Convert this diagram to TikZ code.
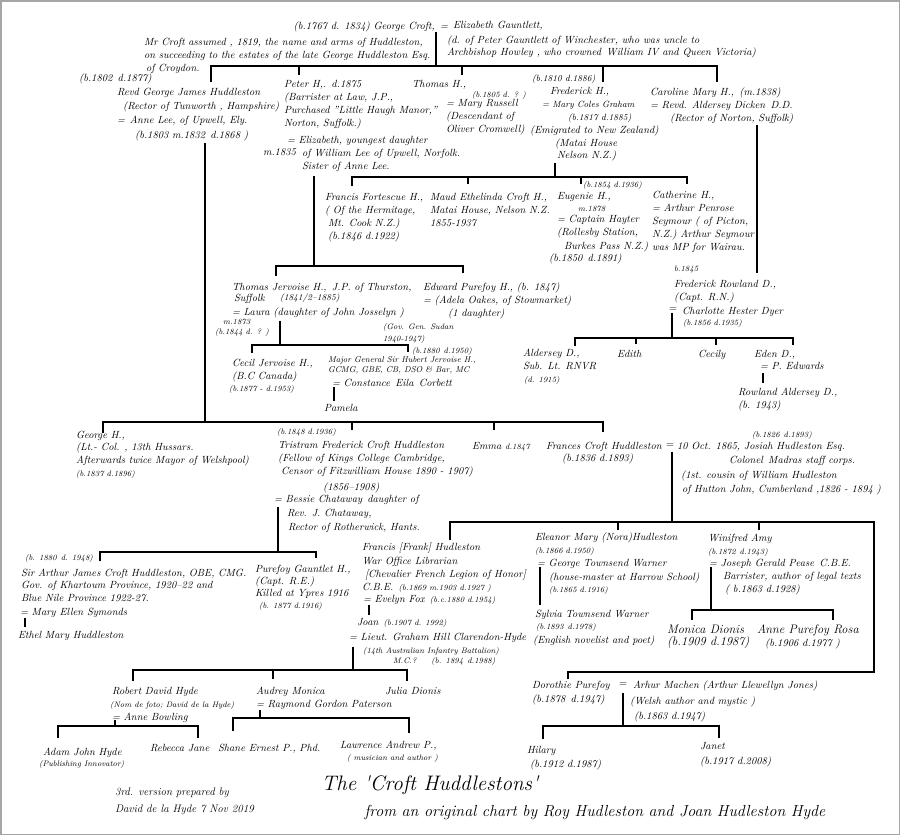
\documentclass[tikz,border=0pt]{standalone}
\usepackage{tikz}
\usetikzlibrary{positioning}

\begin{document}
\begin{tikzpicture}[x=1pt,y=-1pt,
  every node/.style={inner sep=0pt,outer sep=0pt,anchor=north west,align=left},
  person/.style={font=\fontsize{10.4}{13}\selectfont\itshape},
  bs/.style={font=\fontsize{10.4}{#1}\selectfont\itshape},
  dates/.style={font=\fontsize{8}{10}\selectfont\itshape},
  mid/.style={font=\fontsize{9}{13}\selectfont\itshape},
  big/.style={font=\fontsize{12.3}{12}\selectfont\itshape},
  eq/.style={anchor=west,font=\fontsize{10.4}{12}\selectfont},
  kin/.style={line width=1.4pt,black},
]
\useasboundingbox (0,0) rectangle (900,835);
\draw[gray!70,line width=1.5pt] (0.75,0.75) rectangle (899.25,834.25);

% George Croft = Elizabeth Gauntlett
\node[person,anchor=north east] (gc) at (448,22) {(b.1767 d. 1834) George Croft,\enspace=};
\node[person] (eg) at (453,21) {Elizabeth Gauntlett,};
\node[bs=12] (egnote) at (447,36) {(d. of Peter Gauntlett of Winchester, who was uncle to\\Archbishop Howley , who crowned\enspace William IV and Queen Victoria)};
\node[person] (gcnote) at (144,38) {Mr Croft assumed , 1819, the name and arms of Huddleston,\\on succeeding to the estates of the late George Huddleston Esq.\\\hspace*{2pt}of Croydon.};

% second generation
\node[person] (rgjd) at (79,74) {(b.1802\enspace d.1877)};
\node[bs=14.3] (rgj) at (117,88) {Revd George James Huddleston\\\hspace*{6pt}(Rector of Tunworth , Hampshire)\\=\hspace{5pt}Anne Lee, of Upwell, Ely.\\\hspace*{18pt}(b.1803 m.1832\enspace d.1868 )};
\node[person] (peter) at (284,80) {Peter H,.\enspace d.1875\\(Barrister at Law, J.P.,\\Purchased "Little Haugh Manor,"\\Norton, Suffolk.)};
\node[person] (peterw) at (287,136) {= Elizabeth, youngest daughter\\\hspace*{15pt}of William Lee of Upwell, Norfolk.\\\hspace*{15pt}Sister of Anne Lee.};
\node[person] (m1835) at (263,149) {m.1835};
\node[person] (thomas) at (412,80) {Thomas H.,};
\node[dates] (thomasd) at (472,91) {(b.1805 d. ? )};
\node[person] (thomasw) at (446,99) {= Mary Russell\\(Descendant of\\Oliver Cromwell)};
\node[mid] (fredd) at (532,75) {(b.1810 d.1886)};
\node[person] (fred) at (550,87) {Frederick H.,};
\node[mid] (fredw) at (542,101) {= Mary Coles Graham\\\hspace*{26pt}(b.1817 d.1885)};
\node[bs=12.5] (frednz) at (530,126) {(Emigrated to New Zealand)\\\hspace*{25pt}(Matai House\\\hspace*{27pt}Nelson N.Z.)};
\node[person] (caro) at (650,88) {Caroline Mary H.,\enspace(m.1838)\\= Revd. Aldersey Dicken\enspace D.D.\\\hspace*{20pt}(Rector of Norton, Suffolk)};

% Frederick's children
\node[person] (ffort) at (325,193) {Francis Fortescue H.,\\( Of the Hermitage,\\\hspace*{3pt}Mt. Cook N.Z.)\\\hspace*{3pt}(b.1846 d.1922)};
\node[person] (maud) at (430,193) {Maud Ethelinda Croft H.,\\Matai House, Nelson N.Z.\\1855-1937};
\node[dates] (eugd) at (583,181) {(b.1854 d.1936)};
\node[person] (eug) at (557,192) {Eugenie H.,};
\node[dates] (eugm) at (578,206) {m.1878};
\node[bs=13.5] (eugw) at (557,215) {= Captain Hayter\\(Rollesby Station,\\\hspace*{7pt}Burkes Pass N.Z.)};
\node[person] (eugdd) at (549,254) {(b.1850\enspace d.1891)};
\node[person] (cath) at (652,191) {Catherine H.,\\= Arthur Penrose\\Seymour ( of Picton,\\N.Z.) Arthur Seymour\\was MP for Wairau.};

% Caroline's son
\node[dates] (frb) at (674,266) {b.1845};
\node[person] (frd) at (674,280) {Frederick Rowland D.,\\(Capt. R.N.)};
\node[eq] (freq) at (669,310) {=};
\node[person] (chd) at (682,307) {Charlotte Hester Dyer};
\node[dates] (chdd) at (683,319) {(b.1856 d.1935)};
\node[person] (ald) at (523,349) {Aldersey D.,\\Sub. Lt. RNVR};
\node[dates] (aldd) at (524,376) {(d. 1915)};
\node[person] (edith) at (617,350) {Edith};
\node[person] (cecily) at (698,350) {Cecily};
\node[bs=12] (eden) at (754,350) {Eden D.,\\\hspace*{6pt}= P. Edwards};
\node[person] (rowl) at (738,388) {Rowland Aldersey D.,\\(b. 1943)};

% Peter's children
\node[bs=11.5] (tj) at (232,283) {Thomas Jervoise H.,\enspace J.P. of Thurston,\\\hspace*{2pt}Suffolk};
\node[mid] (tjd) at (280,294) {(1841/2--1885)};
\node[person] (tjw) at (232,308) {= Laura (daughter of John Josselyn )};
\node[dates] (tjm) at (215,319) {\hspace*{8pt}m.1873\\(b.1844 d. ? )};
\node[person] (ep) at (423,283) {Edward Purefoy H., (b. 1847)\\= (Adela Oakes, of Stowmarket)\\\hspace*{25pt}(1 daughter)};
\node[dates,font=\fontsize{8}{12}\selectfont\itshape] (gov) at (383,323) {(Gov. Gen. Sudan\\1940-1947)};
\node[dates] (hubd) at (412,347) {(b.1880\enspace d.1950)};
\node[person] (cecil) at (232,359) {Cecil Jervoise H.,\\(B.C Canada)};
\node[dates] (cecild) at (229,385) {(b.1877 - d.1953)};
\node[dates,font=\fontsize{8.5}{10}\selectfont\itshape] (hub) at (328,357) {Major General Sir Hubert Jervoise H.,\\GCMG, GBE, CB, DSO \& Bar, MC};
\node[person] (con) at (332,379) {= Constance\enspace Eila\enspace Corbett};
\node[person] (pam) at (324,404) {Pamela};

% Revd George James's children
\node[bs=12.5] (geo) at (76,431) {George H.,\\(Lt.- Col. , 13th Hussars.\\Afterwards twice Mayor of Welshpool)};
\node[dates] (geod) at (76,470) {(b.1837 d.1896)};
\node[dates] (trisd) at (277,428) {(b.1848 d.1936)};
\node[person] (tris) at (278,441) {Tristram Frederick Croft Huddleston\\(Fellow of Kings College Cambridge,\\\hspace*{3pt}Censor of Fitzwilliam House 1890 - 1907)};
\node[person] (trisl) at (323,483) {(1856--1908)};
\node[bs=14] (bes) at (274,495) {= Bessie Chataway\enspace daughter of\\\hspace*{13pt}Rev. J. Chataway,\\\hspace*{14pt}Rector of Rotherwick, Hants.};
\node[person] (emma) at (472,442) {Emma {\fontsize{8}{10}\selectfont d.1847}};
\node[bs=12] (fran) at (546,442) {Frances Croft Huddleston\\\hspace*{16pt}(b.1836 d.1893)};
\node[eq] (franeq) at (666,446) {=};
\node[dates] (josd) at (752,431) {(b.1826\enspace d.1893)};
\node[bs=14.5] (jos) at (677,442) {10 Oct. 1865, Josiah Hudleston Esq.\\\hspace*{52pt}Colonel\enspace Madras staff corps.\\\hspace*{4pt}(1st. cousin of William Hudleston\\\hspace*{5pt}of Hutton John, Cumberland ,1826 - 1894 )};

% Tristram's children
\node[dates] (artd) at (25,554) {(b. 1880\enspace d. 1948)};
\node[bs=12.5] (art) at (21,569) {Sir Arthur James Croft Huddleston, OBE, CMG.\\Gov. of Khartoum Province, 1920--22 and\\Blue Nile Province 1922-27.};
\node[person] (artw) at (20,608) {= Mary Ellen Symonds};
\node[person] (ethel) at (18,631) {Ethel Mary Huddleston};
\node[bs=12.3] (pur) at (255,565) {Purefoy Gauntlet H.,\\(Capt. R.E.)\\Killed at Ypres 1916};
\node[dates] (purd) at (259,602) {(b. 1877 d.1916)};

% Frances's children
\node[bs=13.3] (fra) at (362,543) {Francis [Frank] Hudleston\\War Office Librarian\\\hspace*{3pt}[Chevalier French Legion of Honor]\\C.B.E.\enspace{\fontsize{8}{10}\selectfont(b.1869 m.1903 d.1927 )}};
\node[person] (eve) at (363,595) {= Evelyn Fox\enspace{\fontsize{8}{10}\selectfont(b.c.1880 d.1954)}};
\node[person] (joan) at (357,618) {Joan\enspace{\fontsize{8}{10}\selectfont(b.1907 d. 1992)}};
\node[person] (gra) at (349,633) {= Lieut. Graham Hill Clarendon-Hyde};
\node[dates] (gran) at (363,647) {(14th Australian Infantry Battalion)\\\hspace*{30pt}M.C.?\hspace{15pt}(b. 1894\enspace d.1988)};
\node[person] (ele) at (535,533) {Eleanor Mary (Nora)Hudleston};
\node[dates] (eled) at (535,547) {(b.1866 d.1950)};
\node[bs=14] (elew) at (537,559) {= George Townsend Warner\\\hspace*{12pt}(house-master at Harrow School)};
\node[dates] (elewd) at (549,586) {(b.1865 d.1916)};
\node[person] (syl) at (535,610) {Sylvia Townsend Warner};
\node[dates] (syld) at (536,623) {(b.1893\enspace d.1978)};
\node[person] (syln) at (533,636) {(English novelist and poet)};
\node[person] (win) at (708,534) {Winifred Amy};
\node[dates] (wind) at (708,548) {(b.1872\enspace d.1943)};
\node[person] (winw) at (709,559) {= Joseph Gerald Pease\enspace C.B.E.\\\hspace*{14pt}Barrister, author of legal texts\\\hspace*{16pt}( b.1863 d.1928)};
\node[big] (mon) at (667,625) {Monica Dionis\\(b.1909 d.1987)};
\node[big] (ann) at (757,625) {Anne Purefoy Rosa};
\node[person] (annd) at (765,639) {(b.1906 d.1977 )};
\node[bs=14] (dor) at (532,681) {Dorothie Purefoy\\(b.1878\enspace d.1947)};
\node[eq] (doreq) at (619,685) {=};
\node[bs=15.5] (mac) at (633,681) {Arhur Machen (Arthur Llewellyn Jones)\\\hspace*{-3pt}(Welsh author and mystic )\\\hspace*{1pt}(b.1863 d.1947)};
\node[bs=14] (hil) at (527,746) {Hilary\\\hspace*{3pt}(b.1912 d.1987)};
\node[bs=15] (jan) at (700,742) {Janet\\(b.1917 d.2008)};

% Joan's children
\node[person] (rob) at (112,687) {Robert David Hyde};
\node[dates] (robn) at (110,701) {(Nom de foto; David de la Hyde)};
\node[person] (robw) at (112,713) {= Anne Bowling};
\node[person] (aud) at (256,687) {Audrey Monica\\= Raymond Gordon Paterson};
\node[person] (jul) at (385,687) {Julia Dionis};
\node[person] (adam) at (43,748) {Adam John Hyde};
\node[dates] (adamn) at (39,760) {(Publishing Innovator)};
\node[person] (reb) at (150,744) {Rebecca Jane};
\node[person] (sha) at (218,744) {Shane Ernest P., Phd.};
\node[person] (law) at (340,741) {Lawrence Andrew P.,};
\node[dates] (lawn) at (347,754) {( musician and author )};

% titles
\node[font=\fontsize{11}{17}\selectfont\itshape] (prep) at (115,788) {3rd. version prepared by\\David de la Hyde 7 Nov 2019};
\node[anchor=center,font=\fontsize{21}{24}\selectfont\itshape] (title) at (430,785) {The \textquotesingle Croft Huddlestons\textquotesingle};
\node[anchor=center,font=\fontsize{16}{18}\selectfont\itshape] (sub) at (595,812) {from an original chart by Roy Hudleston and Joan Hudleston Hyde};

% line junctions
\coordinate (gcDrop) at (436,32);   \coordinate (barA) at (436,66);
\coordinate (kRevd) at (211,82);    \coordinate (kPeter) at (299,75);
\coordinate (kThomas) at (462,75);  \coordinate (kFred) at (603,82);
\coordinate (kCaro) at (717,82);
\coordinate (rgjDrop) at (205,143); \coordinate (barB) at (205,422);
\coordinate (kGeo) at (103,433);    \coordinate (kTris) at (352,430);
\coordinate (kEmma) at (494,430);   \coordinate (kFran) at (603,432);
\coordinate (peterDrop) at (314,176); \coordinate (barC) at (314,266);
\coordinate (kTJ) at (276,276);     \coordinate (kEP) at (463,273);
\coordinate (fredDrop) at (555,163); \coordinate (barD) at (555,177);
\coordinate (kFF) at (352,186);     \coordinate (kMaud) at (468,184);
\coordinate (kEug) at (581,184);    \coordinate (kCath) at (687,184);
\coordinate (caroDrop) at (757,125); \coordinate (kFR) at (757,273);
\coordinate (lauraDrop) at (280,321); \coordinate (barE) at (280,345);
\coordinate (kCecil) at (252,353);  \coordinate (kHub) at (408,352);
\coordinate (conDrop) at (334,387); \coordinate (kPam) at (334,401);
\coordinate (frDrop) at (672,313);  \coordinate (barF) at (672,338);
\coordinate (kAld) at (575,346);    \coordinate (kEdith) at (636,344);
\coordinate (kCecily) at (716,345); \coordinate (kEden) at (793,345);
\coordinate (edenDrop) at (763,373); \coordinate (kRowl) at (763,383);
\coordinate (besDrop) at (278,507); \coordinate (barG) at (278,552);
\coordinate (kArt) at (100,561);    \coordinate (kPur) at (316,558);
\coordinate (artDrop) at (25,618);  \coordinate (kEthel) at (25,627);
\coordinate (franDrop) at (672,452); \coordinate (barH) at (672,522);
\coordinate (kFra) at (450,540);    \coordinate (kEle) at (618,530);
\coordinate (kWin) at (759,530);    \coordinate (barHend) at (874,522);
\coordinate (barI) at (874,672);    \coordinate (kDor) at (568,679);
\coordinate (eleDrop) at (540,567); \coordinate (kSyl) at (540,605);
\coordinate (winDrop) at (711,567); \coordinate (barJ) at (711,610);
\coordinate (kMon) at (692,620);    \coordinate (kAnn) at (833,620);
\coordinate (eveDrop) at (369,605); \coordinate (kJoan) at (369,615);
\coordinate (joanDrop) at (353,647); \coordinate (barK) at (353,670);
\coordinate (kRob) at (133,681);    \coordinate (kAud) at (273,679);
\coordinate (kJul) at (407,681);
\coordinate (robDrop) at (115,720); \coordinate (barL) at (115,726);
\coordinate (kAdam) at (58,738);    \coordinate (kReb) at (198,738);
\coordinate (audDrop) at (260,710); \coordinate (barM) at (260,718);
\coordinate (kSha) at (233,731);    \coordinate (kLaw) at (409,733);
\coordinate (macDrop) at (623,693); \coordinate (barN) at (623,726);
\coordinate (kHil) at (543,739);    \coordinate (kJan) at (719,738);

% family lines
\draw[kin] (gcDrop) -- (barA);
\draw[kin] (kRevd) |- (kCaro |- barA) -- (kCaro);
\foreach \k in {kPeter,kThomas,kFred} \draw[kin] (\k) -- (\k |- barA);
\draw[kin] (rgjDrop) -- (barB);
\draw[kin] (kGeo) |- (kFran |- barB) -- (kFran);
\foreach \k in {kTris,kEmma} \draw[kin] (\k) -- (\k |- barB);
\draw[kin] (peterDrop) -- (barC);
\draw[kin] (kTJ) |- (kEP |- barC) -- (kEP);
\draw[kin] (fredDrop) -- (barD);
\draw[kin] (kFF) |- (kCath |- barD) -- (kCath);
\foreach \k in {kMaud,kEug} \draw[kin] (\k) -- (\k |- barD);
\draw[kin] (caroDrop) -- (kFR);
\draw[kin] (lauraDrop) -- (barE);
\draw[kin] (kCecil) |- (kHub |- barE) -- (kHub);
\draw[kin] (conDrop) -- (kPam);
\draw[kin] (frDrop) -- (barF);
\draw[kin] (kAld) |- (kEden |- barF) -- (kEden);
\foreach \k in {kEdith,kCecily} \draw[kin] (\k) -- (\k |- barF);
\draw[kin] (edenDrop) -- (kRowl);
\draw[kin] (besDrop) -- (barG);
\draw[kin] (kArt) |- (kPur |- barG) -- (kPur);
\draw[kin] (artDrop) -- (kEthel);
\draw[kin] (franDrop) -- (barH);
\draw[kin] (kFra) |- (barHend) -- (barI) -| (kDor);
\foreach \k in {kEle,kWin} \draw[kin] (\k) -- (\k |- barH);
\draw[kin] (eleDrop) -- (kSyl);
\draw[kin] (winDrop) -- (barJ);
\draw[kin] (kMon) |- (kAnn |- barJ) -- (kAnn);
\draw[kin] (eveDrop) -- (kJoan);
\draw[kin] (joanDrop) -- (barK);
\draw[kin] (kRob) |- (kJul |- barK) -- (kJul);
\draw[kin] (kAud) -- (kAud |- barK);
\draw[kin] (robDrop) -- (barL);
\draw[kin] (kAdam) |- (kReb |- barL) -- (kReb);
\draw[kin] (audDrop) -- (barM);
\draw[kin] (kSha) |- (kLaw |- barM) -- (kLaw);
\draw[kin] (macDrop) -- (barN);
\draw[kin] (kHil) |- (kJan |- barN) -- (kJan);
\end{tikzpicture}
\end{document}
